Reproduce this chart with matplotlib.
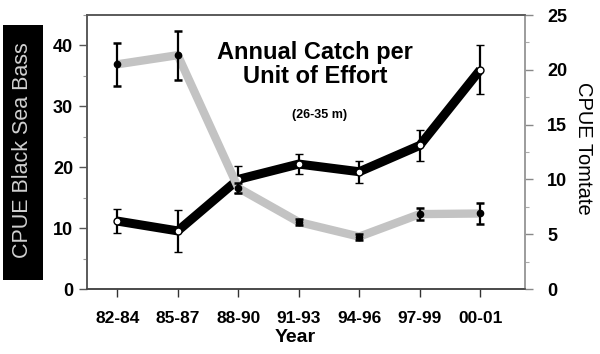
import matplotlib
matplotlib.use('Agg')
import matplotlib.pyplot as plt
from matplotlib.patches import Rectangle
from matplotlib.ticker import MultipleLocator
import numpy as np

plt.rcParams['font.family'] = ['Liberation Sans', 'DejaVu Sans']

periods = ['82-84', '85-87', '88-90', '91-93', '94-96', '97-99', '00-01']
bass = [36.9, 38.4, 16.6, 11.0, 8.6, 12.3, 12.4]
bass_err = [3.5, 4.0, 0.8, 0.5, 0.5, 1.0, 1.7]
tomtate = [6.2, 5.3, 10.0, 11.4, 10.7, 13.1, 20.0]
tomtate_err = [1.1, 1.9, 1.2, 0.95, 1.0, 1.45, 2.25]

x = np.arange(len(periods))

fig = plt.figure(figsize=(6.0, 3.54), dpi=100)
ax = fig.add_axes([87 / 600, 1 - 289 / 354, 438 / 600, 274 / 354])
ax2 = ax.twinx()

# gray series on left axis (Black Sea Bass)
ax.plot(x, bass, color='#c3c3c3', lw=6, solid_capstyle='butt', zorder=2)
ax.errorbar(x, bass, yerr=bass_err, fmt='o', color='black', ms=4.5,
            elinewidth=1.6, capsize=2.8, capthick=1.8, zorder=3)

# black series on right axis (Tomtate)
ax2.plot(x, tomtate, color='black', lw=6.5, solid_capstyle='butt', zorder=2)
ax2.errorbar(x, tomtate, yerr=tomtate_err, fmt='o', color='black', mfc='white',
             mec='black', mew=1.0, ms=5, elinewidth=1.6, capsize=2.8,
             capthick=1.8, zorder=3)

ax.set_xlim(-0.5, 6.74)
ax.set_ylim(0, 45)
ax2.set_ylim(0, 25)
ax.set_xticks(x)
ax.set_xticklabels(periods, fontsize=12.5, fontweight='bold')
ax.yaxis.set_major_locator(MultipleLocator(10))
ax.yaxis.set_minor_locator(MultipleLocator(5))
ax2.yaxis.set_major_locator(MultipleLocator(5))
ax2.yaxis.set_minor_locator(MultipleLocator(2.5))

for lab in ax.get_yticklabels() + ax2.get_yticklabels():
    lab.set_fontsize(13)
    lab.set_fontweight('bold')

ax.tick_params(axis='x', direction='out', length=6, width=1, color='#333333', pad=10)
ax.tick_params(axis='y', which='major', direction='out', length=6, width=1, color='#555555', pad=4)
ax.tick_params(axis='y', which='minor', direction='out', length=3, width=0.8, color='#999999')
ax2.tick_params(axis='y', which='major', direction='out', length=6, width=1, color='#888888', pad=10)
ax2.tick_params(axis='y', which='minor', direction='out', length=3, width=0.8, color='#aaaaaa')

for a in (ax, ax2):
    a.spines['left'].set_color('#555555')
    a.spines['bottom'].set_color('#444444')
    a.spines['top'].set_color('#555555')
    a.spines['right'].set_color('#999999')
    for s in a.spines.values():
        s.set_linewidth(1.1)

ax.set_zorder(ax2.get_zorder() + 1)
ax.patch.set_visible(False)

ax.text(0.52, 0.82, 'Annual Catch per\nUnit of Effort', transform=ax.transAxes,
        ha='center', va='center', fontsize=17, fontweight='bold', linespacing=1.05)
ax.text(0.53, 0.635, '(26-35 m)', transform=ax.transAxes, ha='center', va='center',
        fontsize=9, fontweight='bold')

fig.text(295 / 600, 1 - 338 / 354, 'Year', ha='center', va='center',
         fontsize=14, fontweight='bold')

# black box behind left axis title
fig.patches.append(Rectangle((3 / 600, 1 - 280 / 354), 40 / 600, 255 / 354,
                             transform=fig.transFigure, facecolor='black',
                             edgecolor='none', zorder=0))
fig.text(23 / 600, 1 - 150 / 354, 'CPUE Black Sea Bass', rotation=90,
         ha='center', va='center', fontsize=15.5, color='#d0d0d0')
fig.text(583 / 600, 1 - 148 / 354, 'CPUE Tomtate', rotation=-90,
         ha='center', va='center', fontsize=14.5, color='black')

fig.savefig('out.png', dpi=100)
